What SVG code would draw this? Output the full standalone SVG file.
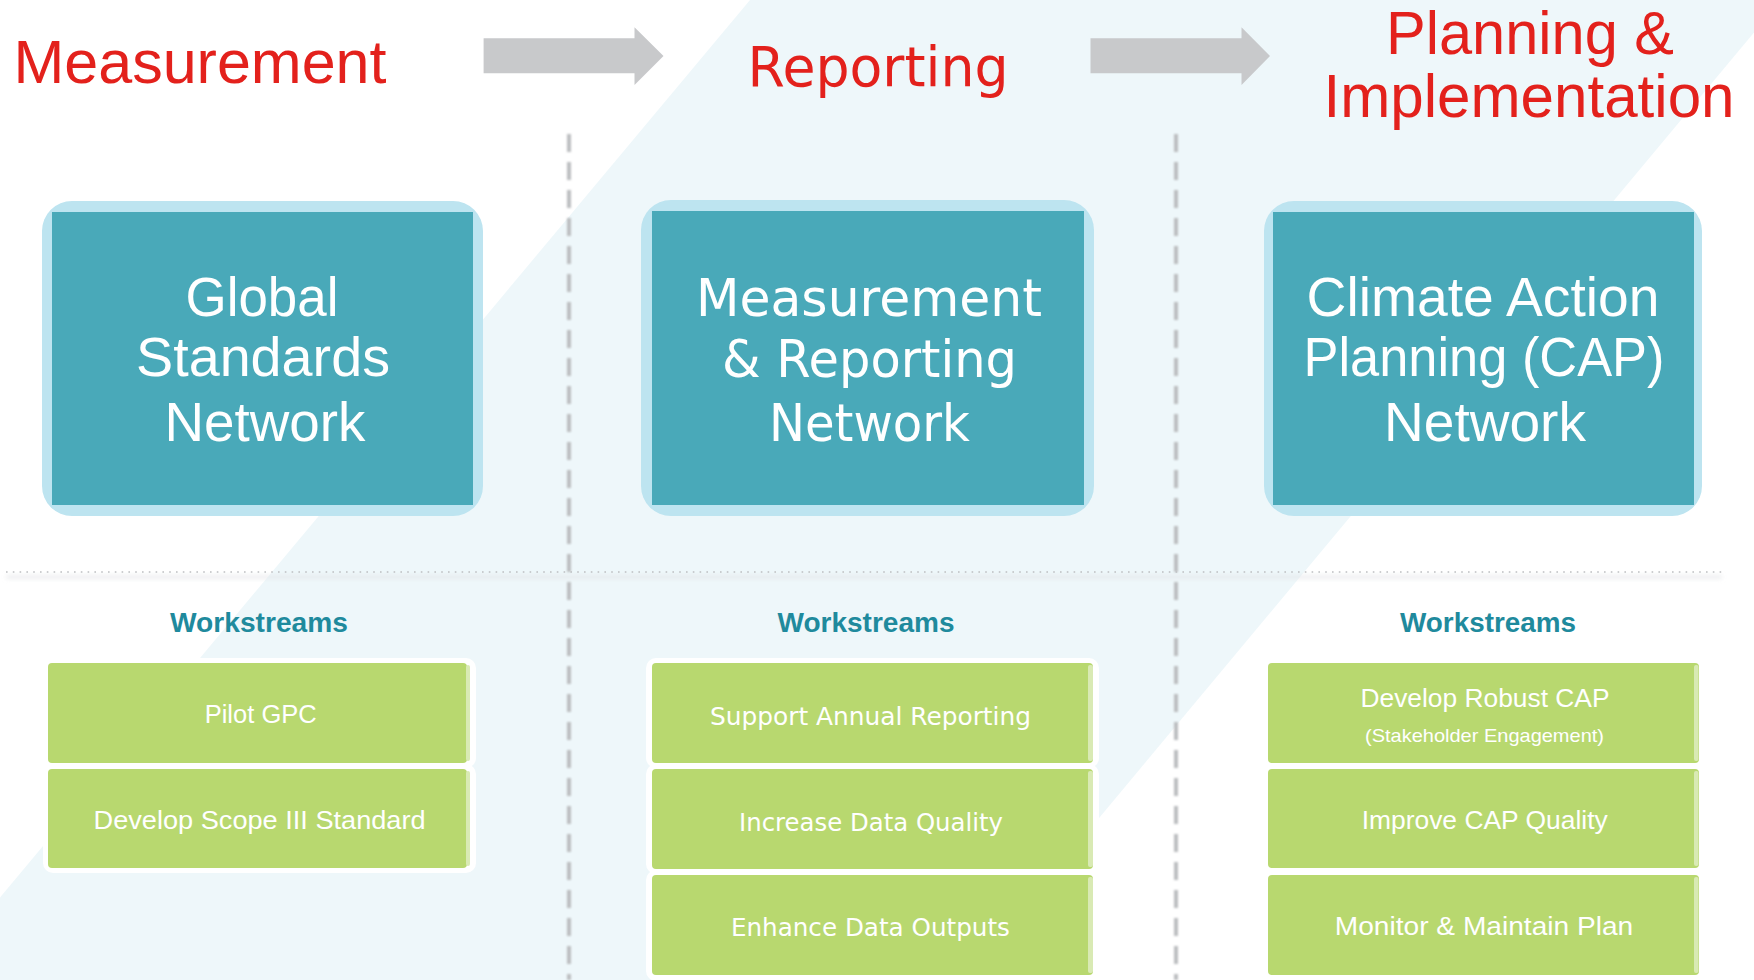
<svg xmlns="http://www.w3.org/2000/svg" width="1754" height="980" viewBox="0 0 1754 980">
<defs>
<style>
.title{font-family:"Liberation Sans",Arial,sans-serif;fill:#E3211C;font-size:62px;text-anchor:middle}
.titlew{font-family:"DejaVu Sans",Verdana,sans-serif;fill:#E3211C;font-size:56px;text-anchor:middle}
.outer{fill:#BDE4F0}
.inner{fill:#49A9B9}
.bt{font-family:"Liberation Sans",Arial,sans-serif;fill:#FFFFFF;font-size:55px;text-anchor:middle}
.btw{font-family:"DejaVu Sans",Verdana,sans-serif;fill:#FFFFFF;font-size:51px;text-anchor:middle}
.ws{font-family:"Liberation Sans",Arial,sans-serif;fill:#1F8A9D;font-size:28px;font-weight:bold;text-anchor:middle}
.gw{fill:#FFFFFF}
.g{fill:#B8D86F}
.gs{fill:#D9EAB4}
.gt{font-family:"Liberation Sans",Arial,sans-serif;fill:#FFFFFF;font-size:26px;text-anchor:middle}
.gtw{font-family:"DejaVu Sans",Verdana,sans-serif;fill:#FFFFFF;font-size:24px;text-anchor:middle}
.gts{font-family:"Liberation Sans",Arial,sans-serif;fill:#FFFFFF;font-size:19px;text-anchor:middle}
.arrow{fill:#C8C9CB}
.vsep{stroke:#BCBEC0;stroke-width:4;stroke-dasharray:18 10;fill:none}
.hsep{stroke:#BDBFC1;stroke-width:1.6;stroke-dasharray:1.6 5.2;fill:none}
</style>
<filter id="soft" filterUnits="userSpaceOnUse" x="0" y="120" width="1754" height="880"><feGaussianBlur stdDeviation="0.8"/></filter>
<filter id="shadow" filterUnits="userSpaceOnUse" x="0" y="560" width="1754" height="30"><feGaussianBlur stdDeviation="2"/></filter>
</defs>
<rect x="0" y="0" width="1754" height="980" fill="#FFFFFF"/>
<polygon points="750,0 1781,0 964,980 -69,980" fill="#EEF7FA"/>

<g id="separators">
<line x1="6" y1="577" x2="1722" y2="577" stroke="#E2E4E6" stroke-width="4" opacity="0.6" filter="url(#shadow)"/>
<line class="hsep" x1="6" y1="572" x2="1722" y2="572"/>
<line class="vsep" x1="569" y1="134" x2="569" y2="980" filter="url(#soft)"/>
<line class="vsep" x1="1176" y1="134" x2="1176" y2="980" filter="url(#soft)"/>
</g>

<g id="connectors">
<path class="arrow" d="M483.6,38.3 H634.5 V27.3 L663.5,56 L634.5,85 V73.3 H483.6 Z"/>
<path class="arrow" d="M1090.5,38.3 H1241.5 V27.3 L1270,56 L1241.5,85 V73.3 H1090.5 Z"/>
</g>

<g id="title-measurement"><text class="title" x="200" y="83" textLength="373" lengthAdjust="spacingAndGlyphs">Measurement</text></g>
<g id="title-reporting"><text class="titlew" x="878" y="86" textLength="261" lengthAdjust="spacingAndGlyphs">Reporting</text></g>
<g id="title-planning">
<text class="title" x="1530" y="54" font-size="58" textLength="288" lengthAdjust="spacingAndGlyphs">Planning &amp;</text>
<text class="title" x="1529" y="117" textLength="411" lengthAdjust="spacingAndGlyphs">Implementation</text>
</g>

<g id="node-global-standards">
<rect class="outer" x="42" y="201" width="441" height="315" rx="30"/>
<rect class="inner" x="52" y="212" width="421" height="293"/>
<text class="bt" x="262" y="316" textLength="153" lengthAdjust="spacingAndGlyphs">Global</text>
<text class="bt" x="263" y="376" textLength="254" lengthAdjust="spacingAndGlyphs">Standards</text>
<text class="bt" x="265" y="441" textLength="201" lengthAdjust="spacingAndGlyphs">Network</text>
</g>

<g id="node-measurement-reporting">
<rect class="outer" x="641" y="200" width="453" height="316" rx="30"/>
<rect class="inner" x="652" y="211" width="432" height="294"/>
<text class="btw" x="869" y="316" textLength="346" lengthAdjust="spacingAndGlyphs">Measurement</text>
<text class="btw" x="869.5" y="377" textLength="295" lengthAdjust="spacingAndGlyphs">&amp; Reporting</text>
<text class="btw" x="869.5" y="441" textLength="201" lengthAdjust="spacingAndGlyphs">Network</text>
</g>

<g id="node-cap">
<rect class="outer" x="1264" y="201" width="438" height="315" rx="30"/>
<rect class="inner" x="1273" y="212" width="421" height="293"/>
<text class="bt" x="1483" y="316" textLength="353" lengthAdjust="spacingAndGlyphs">Climate Action</text>
<text class="bt" x="1484" y="376" textLength="361" lengthAdjust="spacingAndGlyphs">Planning (CAP)</text>
<text class="bt" x="1485" y="441" textLength="202" lengthAdjust="spacingAndGlyphs">Network</text>
</g>

<g id="workstreams-left"><text class="ws" x="259" y="632" textLength="178" lengthAdjust="spacingAndGlyphs">Workstreams</text></g>
<g id="workstreams-middle"><text class="ws" x="866" y="632" textLength="177" lengthAdjust="spacingAndGlyphs">Workstreams</text></g>
<g id="workstreams-right"><text class="ws" x="1488" y="632" textLength="176" lengthAdjust="spacingAndGlyphs">Workstreams</text></g>

<g id="ws-pilot-gpc">
<rect class="gw" x="43" y="658" width="433" height="110" rx="10"/>
<rect class="g" x="48" y="663" width="419" height="100" rx="4"/>
<rect class="gs" x="466" y="665" width="4" height="96" rx="2"/>
<text class="gt" x="260.7" y="723" textLength="112" lengthAdjust="spacingAndGlyphs">Pilot GPC</text>
</g>
<g id="ws-scope-iii">
<rect class="gw" x="43" y="764" width="433" height="109" rx="10"/>
<rect class="g" x="48" y="769" width="419" height="99" rx="4"/>
<rect class="gs" x="466" y="771" width="4" height="95" rx="2"/>
<text class="gt" x="259.6" y="829" textLength="332" lengthAdjust="spacingAndGlyphs">Develop Scope III Standard</text>
</g>

<g id="ws-annual-reporting">
<rect class="gw" x="646" y="658" width="453" height="110" rx="10"/>
<rect class="g" x="652" y="663" width="441" height="100" rx="4"/>
<rect class="gs" x="1088" y="665" width="5" height="96" rx="2"/>
<text class="gtw" x="870.5" y="725" textLength="321" lengthAdjust="spacingAndGlyphs">Support Annual Reporting</text>
</g>
<g id="ws-data-quality">
<rect class="gw" x="646" y="764" width="453" height="110" rx="10"/>
<rect class="g" x="652" y="769" width="441" height="100" rx="4"/>
<rect class="gs" x="1088" y="771" width="5" height="96" rx="2"/>
<text class="gtw" x="871" y="831" textLength="264" lengthAdjust="spacingAndGlyphs">Increase Data Quality</text>
</g>
<g id="ws-data-outputs">
<rect class="gw" x="646" y="870" width="453" height="111" rx="10"/>
<rect class="g" x="652" y="875" width="441" height="100" rx="4"/>
<rect class="gs" x="1088" y="877" width="5" height="96" rx="2"/>
<text class="gtw" x="870.4" y="935.6" textLength="279" lengthAdjust="spacingAndGlyphs">Enhance Data Outputs</text>
</g>

<g id="ws-robust-cap">
<rect class="gw" x="1263" y="658" width="441" height="110" rx="10"/>
<rect class="g" x="1268" y="663" width="431" height="100" rx="4"/>
<rect class="gs" x="1694" y="665" width="4.5" height="96" rx="2"/>
<text class="gt" x="1485" y="707" textLength="249" lengthAdjust="spacingAndGlyphs">Develop Robust CAP</text>
<text class="gts" x="1484.5" y="742" textLength="239" lengthAdjust="spacingAndGlyphs">(Stakeholder Engagement)</text>
</g>
<g id="ws-cap-quality">
<rect class="gw" x="1263" y="764" width="441" height="109" rx="10"/>
<rect class="g" x="1268" y="769" width="431" height="99" rx="4"/>
<rect class="gs" x="1694" y="771" width="4.5" height="95" rx="2"/>
<text class="gt" x="1484.7" y="829" textLength="246" lengthAdjust="spacingAndGlyphs">Improve CAP Quality</text>
</g>
<g id="ws-monitor">
<rect class="gw" x="1263" y="870" width="441" height="110" rx="10"/>
<rect class="g" x="1268" y="875" width="431" height="100" rx="4"/>
<rect class="gs" x="1694" y="877" width="4.5" height="96" rx="2"/>
<text class="gt" x="1484" y="935" textLength="298.5" lengthAdjust="spacingAndGlyphs">Monitor &amp; Maintain Plan</text>
</g>
</svg>
